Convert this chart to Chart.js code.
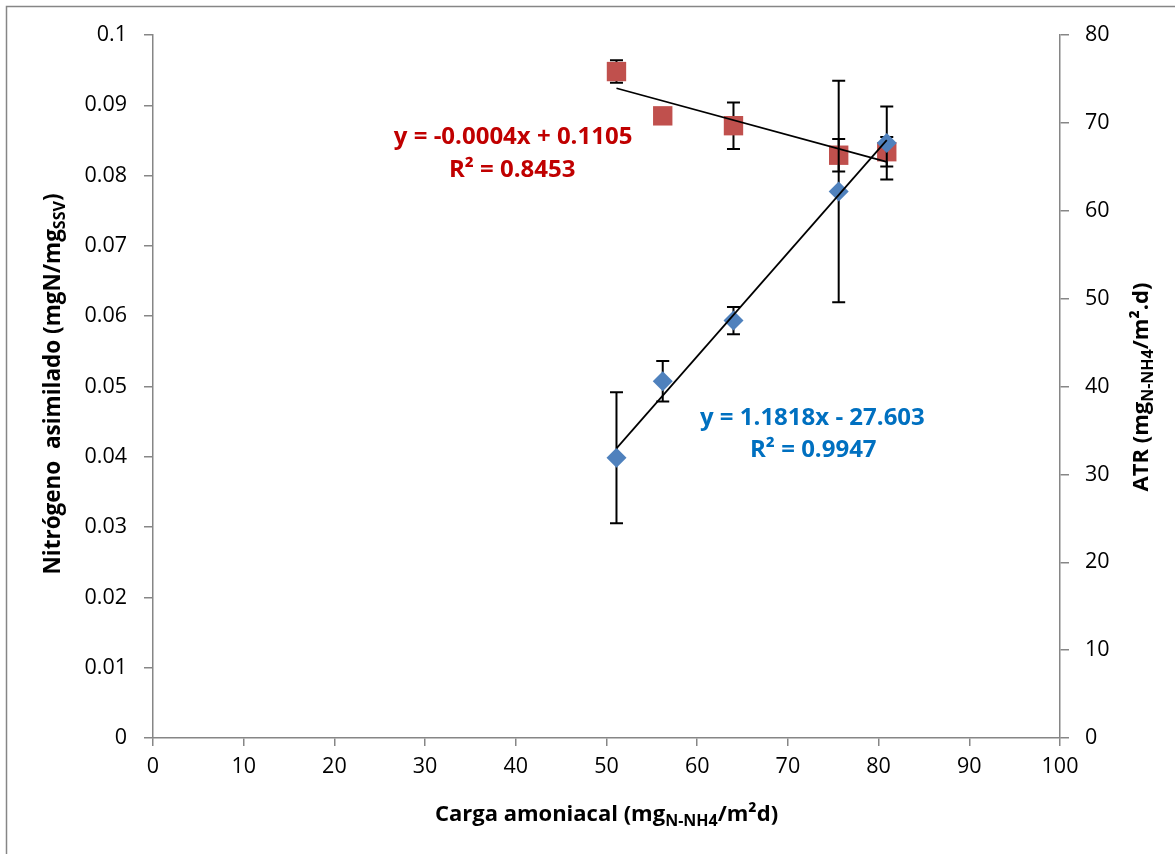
<!DOCTYPE html>
<html><head><meta charset="utf-8">
<script src="https://cdn.jsdelivr.net/npm/chart.js@4.4.0/dist/chart.umd.min.js"></script>
<style>html,body{margin:0;padding:0;background:#fff}canvas{display:block}</style>
</head><body>
<canvas id="c" width="1175" height="854" style="width:1175px;height:854px"></canvas>
<script>
// ---- data ----
const carga = [51.1, 56.2, 64.0, 75.6, 80.9];
const nitrogeno = [0.0948, 0.0885, 0.0871, 0.0829, 0.0834];
const nitrogenoErr = [0.0016, 0.0005, 0.0033, 0.0023, 0.0021];
const atr = [31.9, 40.6, 47.5, 62.2, 67.7];
const atrErr = [7.45, 2.3, 1.55, 12.6, 4.15];
const xTicks = [0, 10, 20, 30, 40, 50, 60, 70, 80, 90, 100];
const leftTicks = [0, 0.01, 0.02, 0.03, 0.04, 0.05, 0.06, 0.07, 0.08, 0.09, 0.1];
const rightTicks = [0, 10, 20, 30, 40, 50, 60, 70, 80];
const eqRed = ['y = -0.0004x + 0.1105', 'R² = 0.8453'];
const eqBlue = ['y = 1.1818x - 27.603', 'R² = 0.9947'];
const xTitle = [['Carga amoniacal (mg', false], ['N-NH4', true], ['/m²d)', false]];
const yTitle = [['Nitrógeno  asimilado (mgN/mg', false], ['SSV', true], [')', false]];
const y2Title = [['ATR (mg', false], ['N-NH4', true], ['/m².d)', false]];

const RED = '#C0504D', BLUE = '#4F81BD';
const FONT = '"Open Sans", Lato, "DejaVu Sans", sans-serif';
const AXIS = '#868686';

function linreg(xs, ys) {
  const n = xs.length;
  const mx = xs.reduce((a, b) => a + b, 0) / n;
  const my = ys.reduce((a, b) => a + b, 0) / n;
  let sxy = 0, sxx = 0;
  for (let i = 0; i < n; i++) { sxy += (xs[i] - mx) * (ys[i] - my); sxx += (xs[i] - mx) ** 2; }
  const m = sxy / sxx;
  return { m, b: my - m * mx };
}
function trend(xs, ys) {
  const r = linreg(xs, ys);
  const x0 = Math.min(...xs), x1 = Math.max(...xs);
  return [{ x: x0, y: r.m * x0 + r.b }, { x: x1, y: r.m * x1 + r.b }];
}
const pts = (xs, ys) => xs.map((x, i) => ({ x, y: ys[i] }));

const errorBars = {
  id: 'errorBars',
  beforeDatasetDraw(chart, args) {
    const ds = chart.data.datasets[args.index];
    if (!ds.errors) return;
    const ctx = chart.ctx;
    const xs = chart.scales.x, ys = chart.scales[ds.yAxisID];
    ctx.save();
    ctx.strokeStyle = '#000';
    ctx.lineWidth = 2;
    ds.data.forEach((p, i) => {
      const e = ds.errors[i];
      const px = xs.getPixelForValue(p.x);
      const top = ys.getPixelForValue(p.y + e), bot = ys.getPixelForValue(p.y - e);
      ctx.beginPath();
      ctx.moveTo(px, top); ctx.lineTo(px, bot);
      ctx.moveTo(px - 6.5, top); ctx.lineTo(px + 6.5, top);
      ctx.moveTo(px - 6.5, bot); ctx.lineTo(px + 6.5, bot);
      ctx.stroke();
    });
    ctx.restore();
  }
};

function richWidth(ctx, parts, size, subSize) {
  let w = 0;
  parts.forEach(([t, sub]) => { ctx.font = 'bold ' + (sub ? subSize : size) + 'px ' + FONT; w += ctx.measureText(t).width; });
  return w;
}
function drawRich(ctx, parts, cx, cy, rot, size, subSize) {
  ctx.save();
  ctx.translate(cx, cy);
  ctx.rotate(rot);
  ctx.fillStyle = '#000';
  ctx.textBaseline = 'alphabetic';
  ctx.textAlign = 'left';
  let x = -richWidth(ctx, parts, size, subSize) / 2;
  const base = size * 0.36;
  parts.forEach(([t, sub]) => {
    ctx.font = 'bold ' + (sub ? subSize : size) + 'px ' + FONT;
    ctx.fillText(t, x, sub ? base + 5 : base);
    x += ctx.measureText(t).width;
  });
  ctx.restore();
}

const annotations = {
  id: 'annotations',
  beforeDraw(chart) {
    const ctx = chart.ctx;
    ctx.save();
    ctx.fillStyle = '#fff';
    ctx.fillRect(0, 0, chart.width, chart.height);
    ctx.strokeStyle = AXIS;
    ctx.lineWidth = 1.5;
    ctx.strokeRect(6.5, 6.5, chart.width + 20, chart.height + 20);
    ctx.restore();
  },
  afterDraw(chart) {
    const ctx = chart.ctx;
    const a = chart.chartArea;
    const xs = chart.scales.x, yl = chart.scales.y, yr = chart.scales.y2;
    ctx.save();
    ctx.font = 'bold 24px ' + FONT;
    ctx.textAlign = 'center';
    ctx.textBaseline = 'middle';
    ctx.fillStyle = '#C00000';
    ctx.fillText(eqRed[0], xs.getPixelForValue(39.7), yl.getPixelForValue(0.0855));
    ctx.fillText(eqRed[1], xs.getPixelForValue(39.6), yl.getPixelForValue(0.0808));
    ctx.fillStyle = '#0070C0';
    ctx.fillText(eqBlue[0], xs.getPixelForValue(72.7), yr.getPixelForValue(36.4));
    ctx.fillText(eqBlue[1], xs.getPixelForValue(72.8), yr.getPixelForValue(32.7));
    ctx.restore();
    drawRich(ctx, xTitle, (a.left + a.right) / 2, 813, 0, 22, 16);
    drawRich(ctx, yTitle, 52, 384, -Math.PI / 2, 22.5, 16);
    drawRich(ctx, y2Title, 1140, 387, -Math.PI / 2, 22, 16);
  }
};

const tickFont = { family: FONT, size: 21.5 };
const fmt = v => String(Math.round(v * 1000) / 1000);

new Chart(document.getElementById('c'), {
  type: 'scatter',
  data: {
    datasets: [
      { label: 'trend ATR', data: trend(carga, atr), yAxisID: 'y2', showLine: true, borderColor: '#000', borderWidth: 1.75, pointRadius: 0 },
      { label: 'trend N', data: trend(carga, nitrogeno), yAxisID: 'y', showLine: true, borderColor: '#000', borderWidth: 1.75, pointRadius: 0 },
      { label: 'ATR', data: pts(carga, atr), errors: atrErr, yAxisID: 'y2', pointStyle: 'rectRot', pointRadius: 10, backgroundColor: BLUE, borderColor: BLUE, borderWidth: 0 },
      { label: 'Nitrógeno asimilado', data: pts(carga, nitrogeno), errors: nitrogenoErr, yAxisID: 'y', pointStyle: 'rect', pointRadius: 13.7, backgroundColor: RED, borderColor: RED, borderWidth: 0 }
    ]
  },
  options: {
    responsive: false,
    animation: false,
    layout: { padding: { top: 35, left: 0, right: 0, bottom: 0 } },
    plugins: { legend: { display: false }, tooltip: { enabled: false } },
    scales: {
      x: {
        type: 'linear', min: 0, max: 100,
        afterBuildTicks: s => { s.ticks = xTicks.map(v => ({ value: v })); },
        afterFit: s => { s.height = 116; },
        ticks: { font: tickFont, color: '#000', padding: 8, maxRotation: 0, callback: fmt },
        grid: { drawOnChartArea: false, drawTicks: true, tickLength: 8, color: AXIS, lineWidth: 1.5 },
        border: { display: true, color: AXIS, width: 1.5 }
      },
      y: {
        type: 'linear', position: 'left', min: 0, max: 0.1,
        afterBuildTicks: s => { s.ticks = leftTicks.map(v => ({ value: v })); },
        afterFit: s => { s.width = 153; },
        ticks: { font: tickFont, color: '#000', padding: 17, callback: fmt },
        grid: { drawOnChartArea: false, drawTicks: true, tickLength: 9, color: AXIS, lineWidth: 1.5 },
        border: { display: true, color: AXIS, width: 1.5 }
      },
      y2: {
        type: 'linear', position: 'right', min: 0, max: 80,
        afterBuildTicks: s => { s.ticks = rightTicks.map(v => ({ value: v })); },
        afterFit: s => { s.width = 115; },
        ticks: { font: tickFont, color: '#000', padding: 16, callback: fmt },
        grid: { drawOnChartArea: false, drawTicks: true, tickLength: 9, color: AXIS, lineWidth: 1.5 },
        border: { display: true, color: AXIS, width: 1.5 }
      }
    }
  },
  plugins: [errorBars, annotations]
});
</script>
</body></html>
